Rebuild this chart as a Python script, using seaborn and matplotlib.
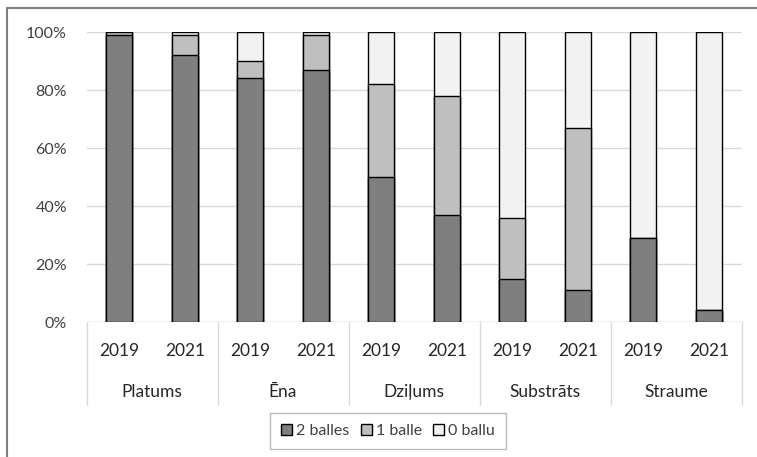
import numpy as np
import pandas as pd
import matplotlib
matplotlib.use("Agg")
import matplotlib.pyplot as plt
import seaborn as sns
from matplotlib.lines import Line2D
from matplotlib.patches import Patch
from matplotlib.transforms import blended_transform_factory

# Data: share of sites per score (percent)
groups = ["Platums", "Ēna", "Dziļums", "Substrāts", "Straume"]
years = ["2019", "2021"]
score_2 = [99, 92, 84, 87, 50, 37, 15, 11, 29, 4]   # 2 balles
score_1 = [1, 7, 6, 12, 32, 41, 21, 56, 0, 0]       # 1 balle
score_0 = [0, 1, 10, 1, 18, 22, 64, 33, 71, 96]     # 0 ballu
series_names = ["2 balles", "1 balle", "0 ballu"]
colors = ["#7f7f7f", "#bfbfbf", "#f2f2f2"]

sns.set_theme(style="white")
plt.rcParams["font.family"] = ["Lato", "DejaVu Sans"]

labels = [f"{g}\n{y}" for g in groups for y in years]
df = pd.DataFrame({
    "label": labels,
    "s2": score_2,
    "s1": score_1,
    "s0": score_0,
})
df["top1"] = df["s2"] + df["s1"]
df["top0"] = df["top1"] + df["s0"]

fig = plt.figure(figsize=(7.57, 4.57), dpi=100)
ax = fig.add_axes([86.5 / 757, 1 - 322 / 457, 655 / 757, 290 / 457])

# stacked bars drawn back to front as cumulative totals
for col, color in zip(["top0", "top1", "s2"], colors[::-1]):
    sns.barplot(data=df, x="label", y=col, order=labels, color=color,
                width=0.4, edgecolor="black", linewidth=1.0,
                saturation=1, ax=ax)

ax.set_xlim(-0.5, len(labels) - 0.5)
ax.set_ylim(0, 100)
ax.set_yticks(np.arange(0, 101, 20))
ax.set_yticklabels([f"{v}%" for v in range(0, 101, 20)], fontsize=11.5, color="#404040")
ax.tick_params(axis="y", length=0, pad=14)
ax.set_xticks([])
ax.set_xlabel("")
ax.set_ylabel("")
ax.grid(axis="y", color="#d9d9d9", linewidth=1.0)
ax.set_axisbelow(True)
for s in ax.spines.values():
    s.set_visible(False)
ax.axhline(0, color="#d9d9d9", linewidth=1.0, zorder=0)

# two-level category axis
tr = blended_transform_factory(ax.transData, ax.transAxes)
for i, lab in enumerate(labels):
    ax.text(i, -0.10, lab.split("\n")[1], transform=tr, ha="center", va="center",
            fontsize=12.5, color="#262626")
for gi, g in enumerate(groups):
    ax.text(gi * 2 + 0.5, -0.24, g, transform=tr, ha="center", va="center",
            fontsize=12.5, color="#262626")
for b in range(len(groups) + 1):
    ax.plot([b * 2 - 0.5, b * 2 - 0.5], [0, -0.286], transform=tr,
            color="#d9d9d9", linewidth=1.0, clip_on=False)

handles = [Patch(facecolor=c, edgecolor="black", linewidth=1.0) for c in colors]
leg = fig.legend(handles, series_names, loc="center", bbox_to_anchor=(388 / 757, 1 - 431 / 457),
                 ncol=3, frameon=True, fontsize=11.5, handlelength=0.7, handleheight=0.7,
                 handletextpad=0.25, columnspacing=0.7, borderpad=0.7, borderaxespad=0,
                 fancybox=False)
leg.get_frame().set_edgecolor("#a6a6a6")
leg.get_frame().set_linewidth(1.0)
for t in leg.get_texts():
    t.set_color("#404040")

# outer chart border
fig.add_artist(Line2D([7 / 757, 1], [1 - 8 / 457, 1 - 8 / 457], transform=fig.transFigure,
                      color="#808080", linewidth=1.5))
fig.add_artist(Line2D([7 / 757, 7 / 757], [0, 1 - 8 / 457], transform=fig.transFigure,
                      color="#808080", linewidth=1.5))

fig.savefig("out.png", dpi=100)
